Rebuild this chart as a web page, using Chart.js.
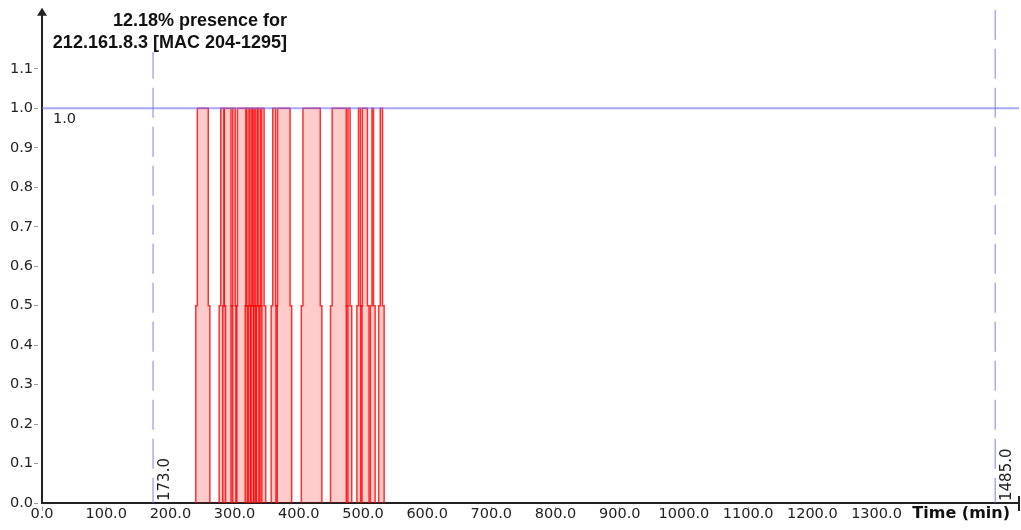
<!DOCTYPE html>
<html><head><meta charset="utf-8">
<script src="https://cdn.jsdelivr.net/npm/chart.js@4/dist/chart.umd.min.js"></script>
<style>html,body{margin:0;padding:0;background:#fff;} canvas{display:block;}</style>
</head><body>
<canvas id="c" width="1021" height="530"></canvas>
<script>
// ---- data ----
const xTickValues = [0, 100, 200, 300, 400, 500, 600, 700, 800, 900, 1000, 1100, 1200, 1300];
const yTickValues = [0, 0.1, 0.2, 0.3, 0.4, 0.5, 0.6, 0.7, 0.8, 0.9, 1.0, 1.1];
const presenceStarts = [242, 278.5, 284, 297, 304.5, 319, 324, 328, 332.5, 336.5, 342, 359.5, 367, 406.5, 452, 476.5, 493, 499, 514, 527];
const presenceEnds   = [259, 283.5, 294.5, 301, 317.5, 322.5, 327, 330.5, 335.5, 340, 346, 364, 386.5, 433.5, 474, 480, 496, 507, 516.5, 530.5];
const fullLevel = 1.0;
const halfLevel = 0.5;
const edgeSpread = 2.5;          // lower half of each block is a little wider (minutes)
const sessionStart = 173.0;
const sessionEnd = 1485.0;
const xMax = 1522;
const yMax = 1.25;
const titleLines = ['12.18% presence for', '212.161.8.3 [MAC 204-1295]'];
const xAxisTitle = 'Time (min)';
const levelLabel = '1.0';

// ---- build datasets ----
const blue = 'rgba(110,110,255,0.6)';
const datasets = [];
datasets.push({data: [{x: 0, y: fullLevel}, {x: xMax, y: fullLevel}], borderColor: blue, borderWidth: 2, pointRadius: 0, fill: false});
[sessionStart, sessionEnd].forEach(t => datasets.push({
  data: [{x: t, y: yMax}, {x: t, y: 0}], borderColor: blue, borderWidth: 1.5,
  borderDash: [30, 9], pointRadius: 0, fill: false
}));
presenceStarts.forEach((s, i) => {
  const e = presenceEnds[i];
  datasets.push({
    data: [
      {x: s - edgeSpread, y: 0}, {x: s - edgeSpread, y: halfLevel}, {x: s, y: halfLevel}, {x: s, y: fullLevel},
      {x: e, y: fullLevel}, {x: e, y: halfLevel}, {x: e + edgeSpread, y: halfLevel}, {x: e + edgeSpread, y: 0}
    ],
    borderColor: 'rgba(255,0,0,0.8)', backgroundColor: 'rgba(255,0,0,0.2)',
    borderWidth: 1.5, pointRadius: 0, fill: 'origin', tension: 0
  });
});

const decor = {
  id: 'decor',
  afterDraw(chart) {
    const {ctx, chartArea: a, scales: {x, y}} = chart;
    ctx.save();
    // title
    ctx.fillStyle = '#fff';
    ctx.fillRect(48, 0, 246, 52);
    ctx.fillStyle = '#111';
    ctx.font = 'bold 18px "Liberation Sans", Arial, sans-serif';
    ctx.textAlign = 'right';
    ctx.textBaseline = 'alphabetic';
    ctx.fillText(titleLines[0], 287, 26);
    ctx.fillText(titleLines[1], 287, 48);
    // level label
    ctx.font = '14.5px "DejaVu Sans", sans-serif';
    ctx.textAlign = 'left';
    ctx.textBaseline = 'middle';
    ctx.fillStyle = '#222';
    ctx.fillText(levelLabel, x.getPixelForValue(0) + 11, y.getPixelForValue(fullLevel) + 11);
    // rotated session labels
    ctx.font = '15px "DejaVu Sans", sans-serif';
    [sessionStart, sessionEnd].forEach(t => {
      ctx.save();
      ctx.translate(x.getPixelForValue(t) + 12, y.getPixelForValue(0) - 2);
      ctx.rotate(-Math.PI / 2);
      ctx.textAlign = 'left';
      ctx.textBaseline = 'middle';
      ctx.fillText(t.toFixed(1), 0, 0);
      ctx.restore();
    });
    // x axis title
    ctx.font = 'bold 16px "DejaVu Sans", sans-serif';
    ctx.textAlign = 'right';
    ctx.textBaseline = 'middle';
    ctx.fillStyle = '#111';
    ctx.fillText(xAxisTitle, 1010, 514);
    // y axis arrow
    ctx.fillStyle = '#222';
    ctx.beginPath();
    ctx.moveTo(a.left, a.top - 2);
    ctx.lineTo(a.left - 5, a.top + 6);
    ctx.lineTo(a.left + 5, a.top + 6);
    ctx.closePath();
    ctx.fill();
    // x axis end mark
    ctx.strokeStyle = '#222';
    ctx.lineWidth = 2;
    ctx.beginPath();
    ctx.moveTo(a.right, a.bottom - 7);
    ctx.lineTo(a.right, a.bottom + 8);
    ctx.stroke();
    ctx.restore();
  }
};

Chart.defaults.font.family = '"DejaVu Sans", sans-serif';
new Chart(document.getElementById('c'), {
  type: 'line',
  data: {datasets},
  options: {
    responsive: false,
    animation: false,
    devicePixelRatio: 1,
    layout: {padding: {top: 9, right: 2, left: 0, bottom: 0}},
    plugins: {legend: {display: false}, tooltip: {enabled: false}, title: {display: false}},
    scales: {
      x: {
        type: 'linear', min: 0, max: xMax, z: 1,
        afterBuildTicks: s => { s.ticks = xTickValues.map(v => ({value: v})); },
        afterFit: s => { s.height = 27; },
        ticks: {
          autoSkip: false, maxRotation: 0, minRotation: 0, padding: -4, color: '#222',
          font: {size: 14.5, lineHeight: 1},
          callback: v => Number(v).toFixed(1)
        },
        grid: {display: true, drawOnChartArea: false, drawTicks: true, tickLength: 8,
               tickColor: '#999', tickWidth: 1, tickBorderDash: [0, 3, 4, 100]},
        border: {display: true, color: '#222', width: 2}
      },
      y: {
        type: 'linear', min: 0, max: yMax, z: 1,
        afterBuildTicks: s => { s.ticks = yTickValues.map(v => ({value: v})); },
        afterFit: s => { s.width = 42; },
        ticks: {
          autoSkip: false, padding: 1, color: '#222',
          font: {size: 14.5},
          callback: v => Number(v).toFixed(1)
        },
        grid: {display: true, drawOnChartArea: false, drawTicks: true, tickLength: 8,
               tickColor: '#999', tickWidth: 1, tickBorderDash: [4, 100]},
        border: {display: true, color: '#222', width: 2}
      }
    }
  },
  plugins: [decor]
});
</script>
</body></html>
